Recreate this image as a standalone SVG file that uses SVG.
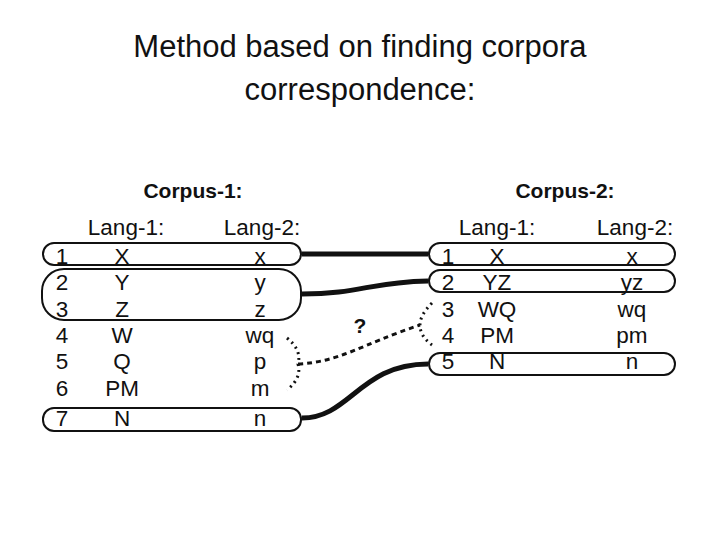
<svg xmlns="http://www.w3.org/2000/svg" width="720" height="540" viewBox="0 0 720 540">
<style>
text{font-family:"Liberation Sans",Arial,sans-serif;fill:#111}
.t{font-size:31px}
.h{font-size:21px;font-weight:bold}
.r{font-size:22.5px}
.box{fill:none;stroke:#111;stroke-width:2}
.thick{fill:none;stroke:#111;stroke-width:5}
.dash{fill:none;stroke:#111;stroke-width:3;stroke-dasharray:5 4}
.dot{fill:none;stroke:#111;stroke-width:3;stroke-dasharray:2 4}
</style>
<rect width="720" height="540" fill="#fff"/>
<text class="t" x="360" y="57" text-anchor="middle">Method based on finding corpora</text>
<text class="t" x="360" y="100" text-anchor="middle">correspondence:</text>
<g id="corpus1">
<text class="h" x="193" y="198" text-anchor="middle">Corpus-1:</text>
<text class="r" x="126" y="235" text-anchor="middle">Lang-1:</text>
<text class="r" x="262" y="235" text-anchor="middle">Lang-2:</text>
<rect class="box" x="43" y="243" width="258" height="22" rx="11"/>
<rect class="box" x="42" y="269" width="259" height="51" rx="22"/>
<rect class="box" x="43" y="408" width="258" height="23" rx="11"/>
<g class="r" text-anchor="middle">
<text x="62" y="264">1</text><text x="122" y="264">X</text><text x="260" y="264">x</text>
<text x="62" y="290">2</text><text x="122" y="290">Y</text><text x="260" y="290">y</text>
<text x="62" y="317">3</text><text x="122" y="317">Z</text><text x="260" y="317">z</text>
<text x="62" y="343">4</text><text x="122" y="343">W</text><text x="260" y="343">wq</text>
<text x="62" y="369">5</text><text x="122" y="369">Q</text><text x="260" y="369">p</text>
<text x="62" y="396">6</text><text x="122" y="396">PM</text><text x="260" y="396">m</text>
<text x="62" y="426">7</text><text x="122" y="426">N</text><text x="260" y="426">n</text>
</g>
</g>
<g id="corpus2">
<text class="h" x="565" y="198" text-anchor="middle">Corpus-2:</text>
<text class="r" x="497" y="235" text-anchor="middle">Lang-1:</text>
<text class="r" x="635" y="235" text-anchor="middle">Lang-2:</text>
<rect class="box" x="429" y="243" width="246" height="22" rx="11"/>
<rect class="box" x="429" y="270" width="246" height="22" rx="11"/>
<rect class="box" x="429" y="353" width="246" height="22" rx="11"/>
<g class="r" text-anchor="middle">
<text x="448" y="264">1</text><text x="497" y="264">X</text><text x="632" y="264">x</text>
<text x="448" y="290">2</text><text x="497" y="290">YZ</text><text x="632" y="290">yz</text>
<text x="448" y="317">3</text><text x="497" y="317">WQ</text><text x="632" y="317">wq</text>
<text x="448" y="343">4</text><text x="497" y="343">PM</text><text x="632" y="343">pm</text>
<text x="448" y="369">5</text><text x="497" y="369">N</text><text x="632" y="369">n</text>
</g>
</g>
<g id="connectors">
<path class="thick" d="M302 254 H428"/>
<path class="thick" d="M302 294 C360 294 370 282 428 281"/>
<path class="thick" d="M302 418 C350 418 360 364 428 364"/>
<path class="dot" d="M287 338 Q302 350 298 364 Q302 378 287 390"/>
<path class="dash" d="M298 364 C340 362 360 345 420 325"/>
<path class="dot" d="M432 303 Q420 315 420 325 Q420 336 432 345"/>
<text x="360" y="333" class="h" text-anchor="middle">?</text>
</g>
</svg>
